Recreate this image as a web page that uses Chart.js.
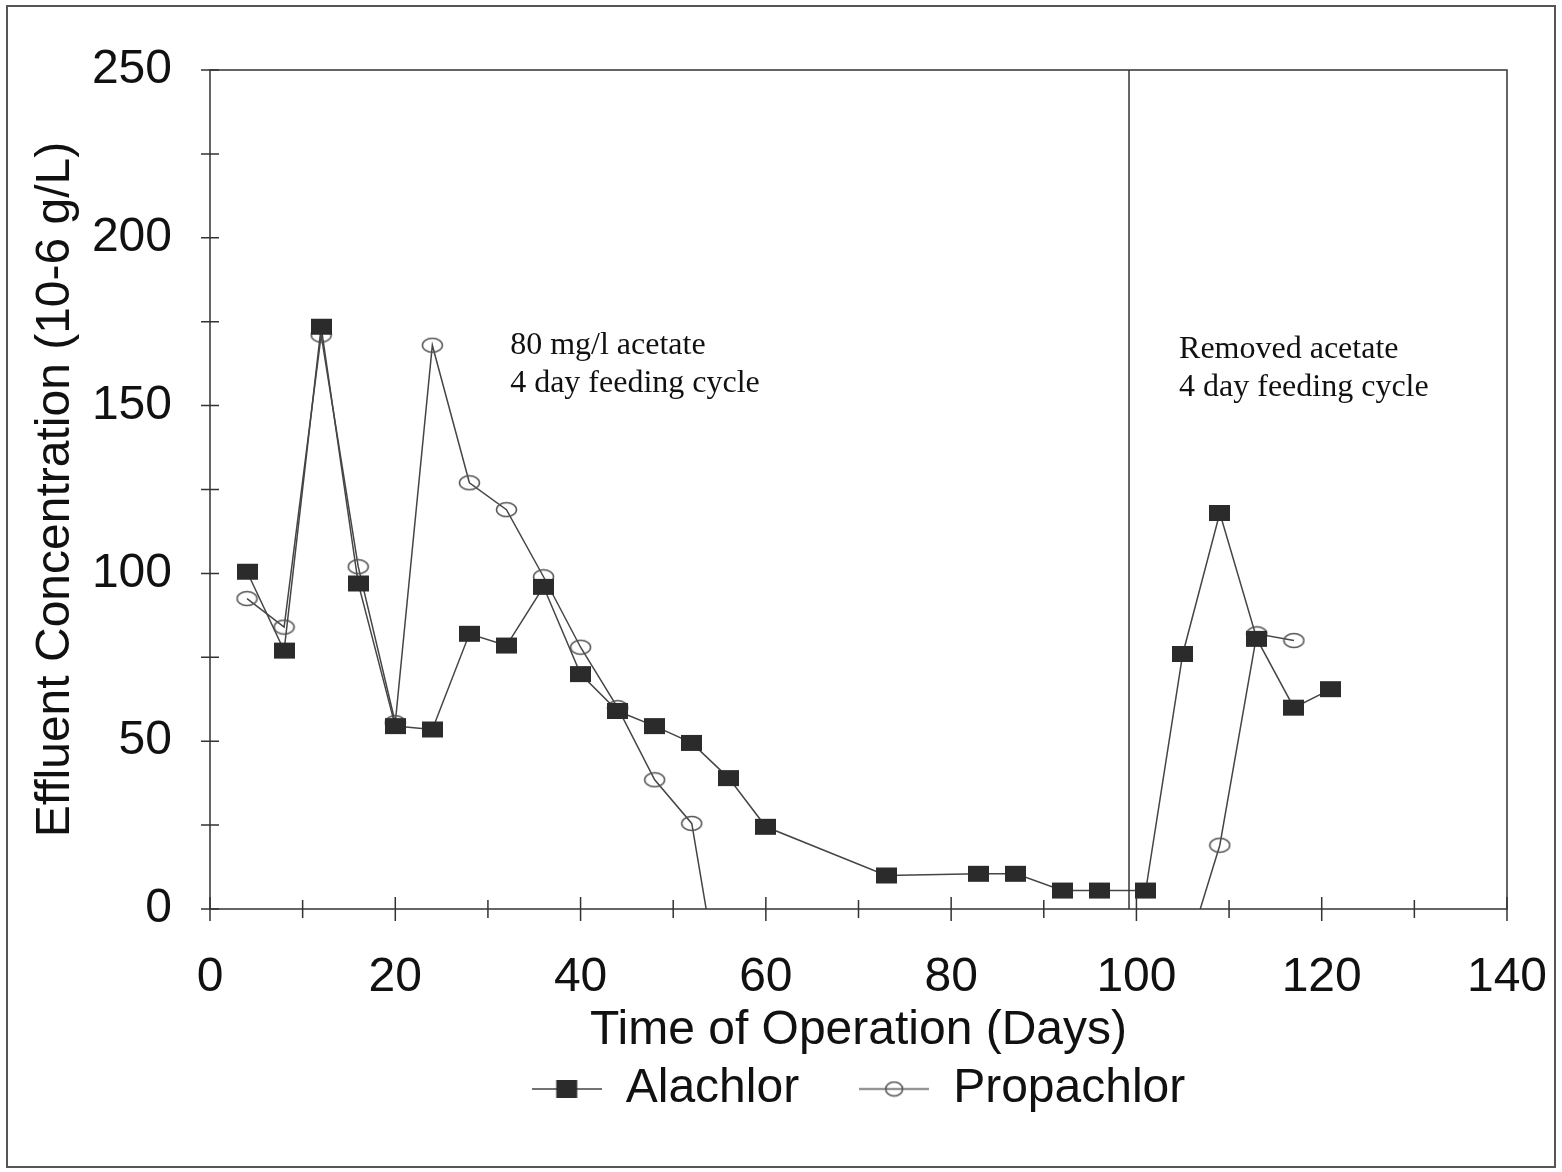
<!DOCTYPE html>
<html>
<head>
<meta charset="utf-8">
<script src="https://cdn.jsdelivr.net/npm/chart.js@4"></script>
<style>
  html, body { margin: 0; padding: 0; background: #fff; }
  #effluentChart { display: block; }
</style>
</head>
<body>
<canvas id="effluentChart" width="1562" height="1172" style="width:1562px;height:1172px"></canvas>
<script>
// data
const alachlorDays = [4, 8, 12, 16, 20, 24, 28, 32, 36, 40, 44, 48, 52, 56, 60, 73, 83, 87, 92, 96, 101, 105, 109, 113, 117, 121];
const alachlorValues = [100.5, 77, 173.5, 97, 54.5, 53.5, 82, 78.5, 96, 70, 59, 54.5, 49.5, 39, 24.5, 10, 10.5, 10.5, 5.5, 5.5, 5.5, 76, 118, 80.5, 60, 65.5];

const propachlorDays = [4, 8, 12, 16, 20, 24, 28, 32, 36, 40, 44, 48, 52, 56, 105, 109, 113, 117];
const propachlorValues = [92.5, 84, 171, 102, 55.5, 168, 127, 119, 99, 78, 60, 38.5, 25.5, -40, -17, 19, 82, 80];

const xTicks = [0, 20, 40, 60, 80, 100, 120, 140];
const yTicks = [0, 50, 100, 150, 200, 250];

const phaseChangeDay = 99.2;
const notes = [
  { day: 32.4, value: 168, lines: ['80 mg/l acetate', '4 day feeding cycle'] },
  { day: 104.6, value: 166.6, lines: ['Removed acetate', '4 day feeding cycle'] }
];

const sans = '"Liberation Sans", Arial, sans-serif';
const lineColor = '#454545';

// marker images
function makeSquare(w, h, lineW) {
  const c = document.createElement('canvas');
  c.width = lineW || w; c.height = h + 2;
  const g = c.getContext('2d');
  if (lineW) {
    g.strokeStyle = lineColor; g.lineWidth = 1.5;
    g.beginPath(); g.moveTo(0, c.height / 2); g.lineTo(c.width, c.height / 2); g.stroke();
  }
  g.fillStyle = '#2b2b2b';
  g.fillRect((c.width - w) / 2, 1, w, h);
  return c;
}
function makeEllipse(w, h, lineW) {
  const c = document.createElement('canvas');
  c.width = lineW || (w + 3); c.height = h + 3;
  const g = c.getContext('2d');
  g.strokeStyle = '#555'; g.lineWidth = 1.5;
  if (lineW) {
    g.beginPath(); g.moveTo(0, c.height / 2); g.lineTo(c.width, c.height / 2); g.stroke();
  }
  g.beginPath();
  g.ellipse(c.width / 2, c.height / 2, w / 2, h / 2, 0, 0, Math.PI * 2);
  g.stroke();
  return c;
}

const squareMark = makeSquare(21, 16);
const circleMark = makeEllipse(20, 14);
const legendIcons = [makeSquare(21, 18, 70), makeEllipse(17, 14, 70)];

const toPoints = (xs, ys) => xs.map((d, i) => ({ x: d, y: ys[i] }));

const framePlugin = {
  id: 'frame',
  beforeDraw(chart) {
    const ctx = chart.ctx;
    ctx.save();
    ctx.fillStyle = '#fff';
    ctx.fillRect(0, 0, chart.width, chart.height);
    ctx.strokeStyle = '#555';
    ctx.lineWidth = 2;
    ctx.strokeRect(7, 6, 1548, 1161);
    ctx.restore();
  },
  afterDraw(chart) {
    const { ctx, chartArea: a, scales: { x, y } } = chart;
    ctx.save();
    ctx.strokeStyle = '#333';
    ctx.lineWidth = 1.5;
    ctx.strokeRect(a.left, a.top, a.right - a.left, a.bottom - a.top);
    const px = x.getPixelForValue(phaseChangeDay);
    ctx.beginPath(); ctx.moveTo(px, a.top); ctx.lineTo(px, a.bottom); ctx.stroke();
    ctx.beginPath();
    for (let v = 0; v <= 140; v += 10) {
      const p = x.getPixelForValue(v);
      const len = v % 20 === 0 ? 12 : 9;
      ctx.moveTo(p, a.bottom - len); ctx.lineTo(p, a.bottom + len);
    }
    for (let v = 0; v <= 250; v += 25) {
      const p = y.getPixelForValue(v);
      ctx.moveTo(a.left - 9, p); ctx.lineTo(a.left + 9, p);
    }
    ctx.stroke();
    ctx.fillStyle = '#111';
    ctx.font = '32px "Liberation Serif", "Times New Roman", serif';
    ctx.textBaseline = 'middle';
    ctx.textAlign = 'left';
    notes.forEach(n => {
      const nx = x.getPixelForValue(n.day);
      const ny = y.getPixelForValue(n.value);
      n.lines.forEach((t, i) => ctx.fillText(t, nx, ny + i * 38));
    });
    ctx.restore();
  }
};

new Chart(document.getElementById('effluentChart'), {
  type: 'line',
  data: {
    datasets: [{
      label: 'Alachlor',
      data: toPoints(alachlorDays, alachlorValues),
      borderColor: lineColor,
      borderWidth: 1.5,
      pointStyle: squareMark,
      tension: 0
    }, {
      label: 'Propachlor',
      data: toPoints(propachlorDays, propachlorValues),
      borderColor: lineColor,
      borderWidth: 1.5,
      pointStyle: circleMark,
      tension: 0
    }]
  },
  options: {
    responsive: false,
    animation: false,
    layout: { padding: { top: 70, right: 55, bottom: 49, left: 0 } },
    plugins: {
      tooltip: { enabled: false },
      legend: {
        position: 'bottom',
        fullSize: false,
        labels: {
          usePointStyle: true,
          pointStyleWidth: 70,
          padding: 60,
          color: '#111',
          font: { family: sans, size: 48 },
          generateLabels(chart) {
            const items = Chart.defaults.plugins.legend.labels.generateLabels(chart);
            items.forEach((it, i) => { it.pointStyle = legendIcons[i]; });
            return items;
          }
        }
      }
    },
    scales: {
      x: {
        type: 'linear',
        min: 0, max: 140,
        afterBuildTicks: s => { s.ticks = xTicks.map(v => ({ value: v })); },
        afterFit: s => { s.height = 96; s.paddingLeft = 0; s.paddingRight = 0; },
        grid: { display: false, drawTicks: false },
        border: { display: false },
        ticks: { color: '#111', padding: 40, font: { family: sans, size: 48 } },
        title: {
          display: true,
          text: 'Time of Operation (Days)',
          color: '#111',
          padding: { top: 0, bottom: -55 },
          font: { family: sans, size: 48 }
        }
      },
      y: {
        min: 0, max: 250,
        afterBuildTicks: s => { s.ticks = yTicks.map(v => ({ value: v })); },
        afterFit: s => { s.width = 210; s.paddingTop = 0; s.paddingBottom = 0; },
        grid: { display: false, drawTicks: false },
        border: { display: false },
        ticks: { color: '#111', padding: 38, font: { family: sans, size: 48 } },
        title: {
          display: true,
          text: 'Effluent Concentration (10-6 g/L)',
          color: '#111',
          padding: { top: 27, bottom: 0 },
          font: { family: sans, size: 48 }
        }
      }
    }
  },
  plugins: [framePlugin]
});
</script>
</body>
</html>
